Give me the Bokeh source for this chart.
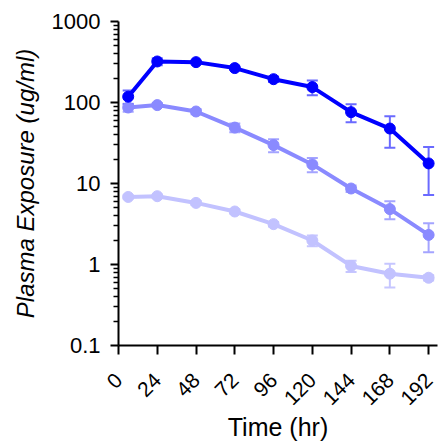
import math
from bokeh.plotting import figure
from bokeh.models import (Range1d, FixedTicker, Whisker, TeeHead, ColumnDataSource,
                          CustomJSTickFormatter)
from bokeh.embed import file_html
from bokeh.resources import INLINE

# Data
times = [6, 24, 48, 72, 96, 120, 144, 168, 192]
high_mean = [118, 321, 315, 266, 194, 155, 76, 47.7, 17.7]
high_sd = [23, 32, 8, 10, 15, 32, 19, 20, 10.5]
mid_mean = [86.7, 92.9, 77.4, 49, 29.8, 17.2, 8.67, 4.83, 2.32]
mid_sd = [10, 5, 6, 6, 5.5, 3.4, 0.8, 1.2, 0.9]
low_mean = [6.82, 6.97, 5.76, 4.51, 3.15, 1.98, 0.96, 0.77, 0.686]
low_sd = [0.3, 0.3, 0.3, 0.25, 0.2, 0.3, 0.15, 0.25, 0.05]

x_ticks = [0, 24, 48, 72, 96, 120, 144, 168, 192]
x_tick_labels = ["0", "24", "48", "72", "96", "120", "144", "168", "192"]
y_ticks = [0.1, 1, 10, 100, 1000]

FONT = "Liberation Sans"

p = figure(width=438, height=443, y_axis_type="log",
           x_range=Range1d(0, 197.5), y_range=Range1d(0.1, 1000),
           output_backend="svg", toolbar_location=None,
           min_border_left=118, min_border_top=21, min_border_right=1, min_border_bottom=98)
p.outline_line_color = None
p.grid.visible = False
p.background_fill_color = "white"

series = [
    (low_mean, low_sd, "#C2C2FF", "#C6C6FF"),
    (mid_mean, mid_sd, "#8A8AFF", "#A4A4FF"),
    (high_mean, high_sd, "#0000FF", "#6A6AFF"),
]

for mean, sd, col, ecol in series:
    src = ColumnDataSource(dict(x=times, y=mean,
                                lo=[m - s for m, s in zip(mean, sd)],
                                hi=[m + s for m, s in zip(mean, sd)]))
    w = Whisker(source=src, base="x", lower="lo", upper="hi", dimension="height",
                line_color=ecol, line_width=2,
                upper_head=TeeHead(size=11, line_color=ecol, line_width=2),
                lower_head=TeeHead(size=11, line_color=ecol, line_width=2))
    p.add_layout(w)
    p.line("x", "y", source=src, line_color=col, line_width=4)
    p.scatter("x", "y", source=src, size=11, fill_color=col, line_color=col)

# X axis: rotated labels, left-padded to equal width so each one ends at its tick
nbsp = "\u00a0"
pad = max(len(t) for t in x_tick_labels)
overrides = {v: nbsp * (2 * (pad - len(t))) + t for v, t in zip(x_ticks, x_tick_labels)}

xa = p.xaxis[0]
xa.ticker = FixedTicker(ticks=x_ticks)
xa.major_label_overrides = overrides
xa.major_label_orientation = math.pi / 4
xa.major_label_text_font = FONT
xa.major_label_text_font_size = "21px"
xa.major_label_text_color = "black"
xa.major_label_standoff = 22
xa.major_tick_out = 9
xa.major_tick_in = 0
xa.minor_tick_out = 0
xa.minor_tick_in = 0
xa.axis_line_width = 2
xa.major_tick_line_width = 2
xa.axis_line_color = "black"
xa.axis_label = "Time (hr)"
xa.axis_label_text_font = FONT
xa.axis_label_text_font_size = "25px"
xa.axis_label_text_font_style = "normal"
xa.axis_label_text_color = "black"
xa.axis_label_standoff = -8

# Y axis
minor = [d * k for d in y_ticks[:-1] for k in range(2, 10)]
ya = p.yaxis[0]
ya.ticker = FixedTicker(ticks=y_ticks, minor_ticks=minor)
ya.formatter = CustomJSTickFormatter(code="return String(tick);")
ya.major_label_text_font = FONT
ya.major_label_text_font_size = "22px"
ya.major_label_text_color = "black"
ya.major_tick_out = 8
ya.major_tick_in = 0
ya.minor_tick_out = 5
ya.minor_tick_in = 0
ya.axis_line_width = 2
ya.major_tick_line_width = 2
ya.minor_tick_line_width = 1.5
ya.axis_line_color = "black"
ya.major_label_standoff = 10
ya.axis_label = "Plasma Exposure (ug/ml)"
ya.axis_label_text_font = FONT
ya.axis_label_text_font_size = "24px"
ya.axis_label_text_font_style = "italic"
ya.axis_label_text_color = "black"
ya.axis_label_standoff = 10

open("out.html", "w").write(file_html(p, INLINE))
